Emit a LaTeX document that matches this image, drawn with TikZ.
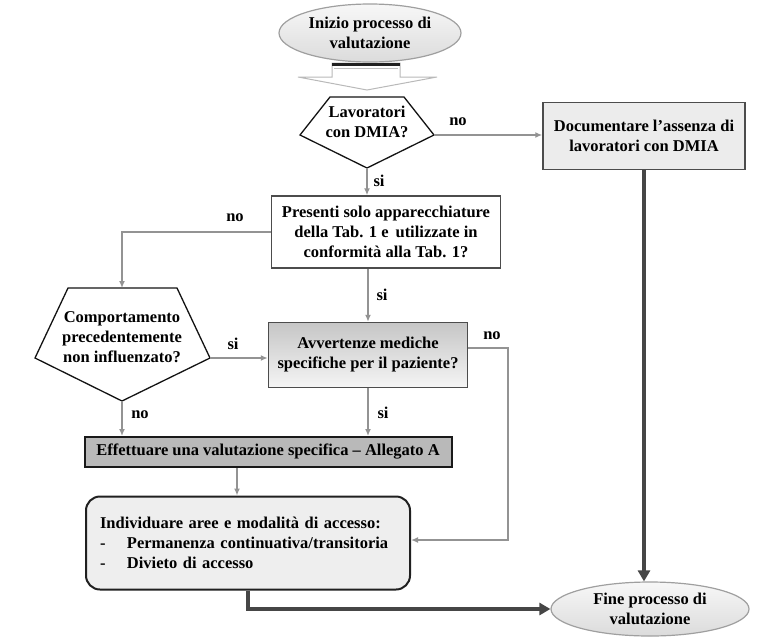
\documentclass[tikz,border=0pt]{standalone}
\usepackage{fontspec}
\setmainfont{Liberation Serif}
\usetikzlibrary{positioning,shapes.geometric,arrows.meta}

\tikzset{
  flowline/.style={draw=gray!85, line width=1.5pt, -{Latex[length=7pt,width=6pt]}},
  bigflow/.style={draw=gray!55!black, line width=3.5pt, -{Triangle[length=11pt,width=12pt]}},
  terminal/.style={ellipse, draw=gray!75, line width=1.2pt, top color=gray!6, bottom color=gray!28, align=center, inner sep=0pt},
  process/.style={rectangle, draw=gray!60!black, line width=1.5pt, align=center},
  decision/.style={draw=gray!15!black, line width=1.3pt, fill=white},
  textonly/.style={align=center, inner sep=0pt},
  answer/.style={inner sep=0pt}
}

\begin{document}
\begin{tikzpicture}[x=1pt,y=-1pt, font=\fontsize{16.5}{20}\selectfont\bfseries]
  \useasboundingbox (0,0) rectangle (759,643);

  % Decision outlines
  \coordinate (lavL) at (300,135);
  \coordinate (lavR) at (434,135);
  \coordinate (lavB) at (367,168);
  \draw[decision] (330,97) -- (404,97) -- (lavR) -- (lavB) -- (lavL) -- cycle;
  \coordinate (compT) at (122,288);
  \coordinate (compL) at (35,358);
  \coordinate (compR) at (210,358);
  \coordinate (compB) at (122,401);
  \draw[decision] (68,288) -- (177,288) -- (compR) -- (compB) -- (compL) -- cycle;

  % Define nodes
  \node[terminal, minimum width=182pt, minimum height=58pt] (start) at (370,33) {Inizio processo di\\valutazione};
  \node[textonly] (lav) at (367,122) {Lavoratori\\con DMIA?};
  \node[process, fill=gray!15, minimum width=202pt, minimum height=67pt] (doc) at (644,136)
    {Documentare l’assenza di\\lavoratori con DMIA};
  \node[process, fill=white, minimum width=229pt, minimum height=72pt] (pres) at (386,232)
    {Presenti solo apparecchiature\\della Tab. 1 e\, utilizzate in\\conformità alla Tab. 1?};
  \node[textonly] (comp) at (122,337) {Comportamento\\precedentemente\\non influenzato?};
  \node[process, top color=gray!45, bottom color=gray!8, minimum width=199pt, minimum height=65pt] (avv) at (368,355)
    {Avvertenze mediche\\specifiche per il paziente?};
  \node[process, fill=gray!55, draw=gray!20!black, line width=2pt, inner sep=1pt, minimum width=367pt, minimum height=30pt] (eff) at (268,452)
    {Effettuare una valutazione specifica – Allegato A};
  \node[process, rounded corners=14pt, fill=gray!13, draw=gray!25!black, line width=2pt, align=left, text width=296pt, inner xsep=14pt, minimum height=93pt] (ind) at (248,543)
    {Individuare aree e modalità di accesso:\\\makebox[27pt][l]{-}Permanenza continuativa/transitoria\\\makebox[27pt][l]{-}Divieto di accesso};
  \node[terminal, minimum width=198pt, minimum height=54pt] (fine) at (650,609) {Fine processo di\\valutazione};

  % Answers
  \node[answer] (noA) at (458,122) {no};
  \node[answer] (siA) at (379,181) {si};
  \node[answer] (noB) at (235,218) {no};
  \node[answer] (siB) at (382,295) {si};
  \node[answer] (siC) at (233,344) {si};
  \node[answer] (noC) at (492,336) {no};
  \node[answer] (siD) at (383,413) {si};
  \node[answer] (noD) at (140,415) {no};

  % Block arrow under the start
  \draw[draw=gray!55, line width=1pt, fill=white] (332,63) -- (400,63) -- (400,77) -- (437,77) -- (367,90) -- (298,77) -- (332,77) -- cycle;
  \draw[gray!25!black, line width=3pt] (332,64) -- (400,64);
  \draw[gray!50, line width=1pt] (334,68.5) -- (398,68.5);

  % Connect the nodes
  \coordinate (avvR) at (508,348);
  \coordinate (indR) at (508,540);
  \draw[flowline] (lavR) -- (lavR -| doc.west);
  \draw[flowline] (lavB) -- (lavB |- pres.north);
  \draw[flowline] (pres.west) -| (compT);
  \draw[flowline] (pres.south -| avv.north) -- (avv.north);
  \draw[flowline] (compR) -- (compR -| avv.west);
  \draw[flowline] (compB) -- (compB |- eff.north);
  \draw[flowline] (avv.south) -- (avv.south |- eff.north);
  \draw[flowline] ([yshift=7pt]avv.east) -- (avvR) -- (indR) -- (indR -| ind.east);
  \draw[flowline] (eff.south -| 237,0) -- (ind.north -| 237,0);
  \draw[bigflow] (doc.south) -- (doc.south |- fine.north);
  \draw[bigflow] (ind.south) |- (fine.west);
\end{tikzpicture}
\end{document}
